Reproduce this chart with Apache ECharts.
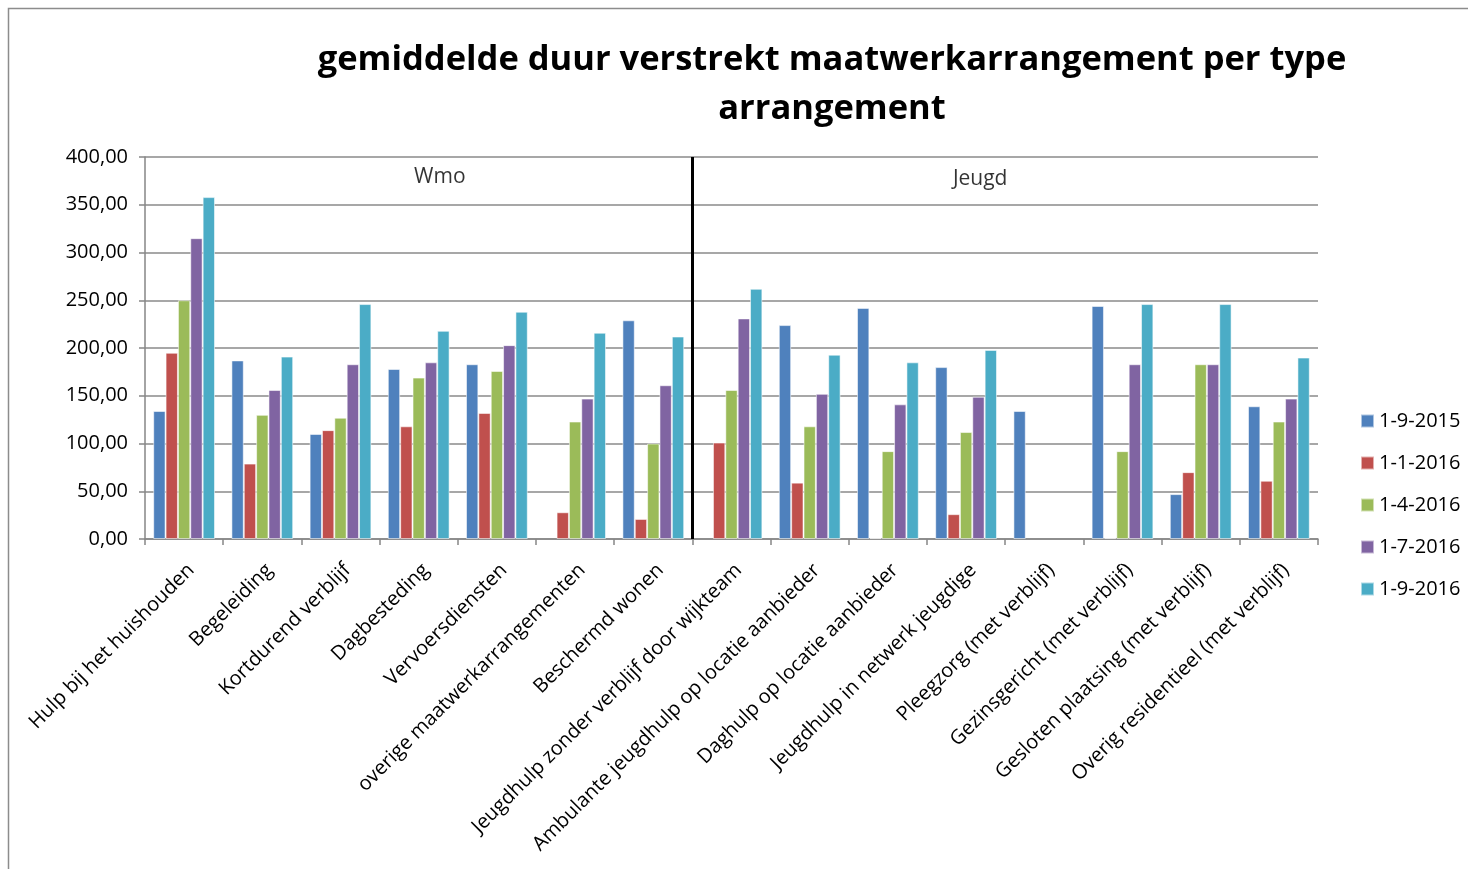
<!DOCTYPE html>
<html>
<head>
<meta charset="utf-8">
<title>gemiddelde duur verstrekt maatwerkarrangement</title>
<script src="https://cdn.jsdelivr.net/npm/echarts@6/dist/echarts.min.js"></script>
<style>
  html, body { margin: 0; padding: 0; background: #fff; }
  #chart { width: 1468px; height: 869px; }
</style>
</head>
<body>
<div id="chart"></div>
<script>
// categorieën (Wmo: eerste 7, Jeugd: rest)
const categories = [
  'Hulp bij het huishouden', 'Begeleiding', 'Kortdurend verblijf', 'Dagbesteding',
  'Vervoersdiensten', 'overige maatwerkarrangementen', 'Beschermd wonen',
  'Jeugdhulp zonder verblijf door wijkteam', 'Ambulante jeugdhulp op locatie aanbieder',
  'Daghulp op locatie aanbieder', 'Jeugdhulp in netwerk jeugdige', 'Pleegzorg (met verblijf)',
  'Gezinsgericht (met verblijf)', 'Gesloten plaatsing (met verblijf)', 'Overig residentieel (met verblijf)'
]
const seriesNames = ['1-9-2015', '1-1-2016', '1-4-2016', '1-7-2016', '1-9-2016']
const d_2015_09 = [134, 187, 110, 178, 183, null, 229, null, 224, 242, 180, 134, 244, 47, 139]
const d_2016_01 = [195, 79, 114, 118, 132, 28, 21, 101, 59, 1, 26, null, 1, 70, 61]
const d_2016_04 = [250, 130, 127, 169, 176, 123, 100, 156, 118, 92, 112, null, 92, 183, 123]
const d_2016_07 = [315, 156, 183, 185, 203, 147, 161, 231, 152, 141, 149, null, 183, 183, 147]
const d_2016_09 = [358, 191, 246, 218, 238, 216, 212, 262, 193, 185, 198, null, 246, 246, 190]
const groupLabels = [[3.77, 379, 'Wmo'], [10.68, 377, 'Jeugd']]
const dividerAt = 7

const colors = ['#4F81BD', '#C0504D', '#9BBB59', '#8064A2', '#4BACC6']
const font = '"Open Sans", "Liberation Sans", sans-serif'

const myChart = echarts.init(document.getElementById('chart'))

let barSeries = [d_2015_09, d_2016_01, d_2016_04, d_2016_07, d_2016_09].map((data, i) => ({
  name: seriesNames[i],
  type: 'bar',
  data: data,
  barGap: '0%',
  barCategoryGap: '21%',
  itemStyle: { color: colors[i], borderColor: 'rgba(255,255,255,0.55)', borderWidth: 1 },
  emphasis: { disabled: true }
}))

let option = {
  animation: false,
  color: colors,
  textStyle: { fontFamily: font },
  title: {
    text: 'gemiddelde duur verstrekt maatwerkarrangement per type\narrangement',
    left: 827,
    top: 31,
    textAlign: 'center',
    textStyle: { fontFamily: font, fontWeight: 'bold', fontSize: 34.5, lineHeight: 49, color: '#000' }
  },
  graphic: [{
    type: 'rect',
    shape: { x: 8.5, y: 8.5, width: 1500, height: 900 },
    style: { fill: 'none', stroke: '#8c8c8c', lineWidth: 1.5 },
    silent: true
  }],
  legend: {
    data: seriesNames,
    orient: 'vertical',
    left: 1355,
    top: 406,
    itemWidth: 13,
    itemHeight: 13,
    itemGap: 22,
    icon: 'rect',
    textStyle: { fontFamily: font, fontSize: 20, color: '#000', lineHeight: 20 }
  },
  grid: { left: 145, right: 150, top: 157, bottom: 330, containLabel: false },
  xAxis: [{
    type: 'category',
    data: categories,
    axisLine: { lineStyle: { color: '#868686', width: 1.5 } },
    axisTick: { show: true, interval: 0, length: 6, lineStyle: { color: '#868686', width: 1.5 } },
    axisLabel: {
      interval: 0, rotate: 45, fontSize: 20, color: '#000', margin: 21,
      verticalAlign: 'top', fontFamily: font
    }
  }, {
    type: 'value',
    min: 0,
    max: categories.length,
    show: false
  }],
  yAxis: {
    type: 'value',
    min: 0,
    max: 400,
    interval: 50,
    axisLine: { show: true, lineStyle: { color: '#868686', width: 1.5 } },
    axisTick: { show: true, length: 6, lineStyle: { color: '#868686', width: 1.5 } },
    splitLine: { lineStyle: { color: '#8a8a8a', width: 1.5 } },
    axisLabel: {
      fontSize: 20, color: '#000', margin: 17, fontFamily: font,
      formatter: v => v.toFixed(2).replace('.', ',')
    }
  },
  series: barSeries.concat([{
    type: 'scatter',
    xAxisIndex: 1,
    data: groupLabels,
    symbolSize: 0,
    silent: true,
    label: {
      show: true,
      position: 'inside',
      formatter: p => p.value[2],
      fontSize: 21,
      color: '#000',
      fontFamily: font
    }
  }, {
    type: 'line',
    xAxisIndex: 1,
    data: [],
    silent: true,
    markLine: {
      symbol: 'none',
      silent: true,
      label: { show: false },
      lineStyle: { color: '#000', width: 3, type: 'solid' },
      data: [{ xAxis: dividerAt }]
    }
  }])
}
myChart.setOption(option)
</script>
</body>
</html>
